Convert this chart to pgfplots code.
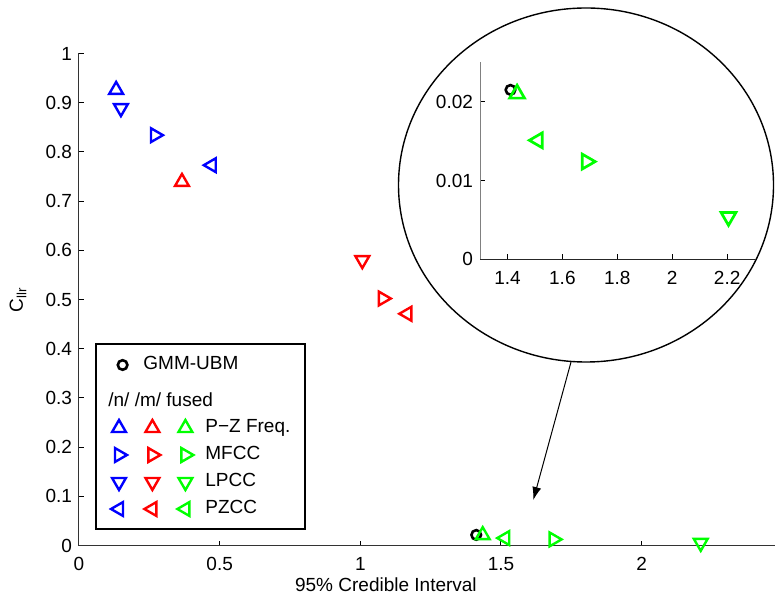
\documentclass[border=0pt]{standalone}
\usepackage{fontspec}
\setmainfont{Liberation Sans}
\usepackage{pgfplots}
\pgfplotsset{compat=1.18}
\usetikzlibrary{arrows.meta}

\definecolor{mblue}{RGB}{0,0,255}
\definecolor{mred}{RGB}{255,0,0}
\definecolor{mgreen}{RGB}{0,255,0}

\pgfplotsset{
  tri/.style={only marks, mark=triangle, mark size=4pt,
    mark options={solid, line width=1.2pt, rotate=#1}},
  itri/.style={only marks, mark=triangle, mark size=4.3pt,
    mark options={solid, line width=1.35pt, rotate=#1}},
  circ/.style={only marks, mark=o, mark size=2.4pt,
    mark options={solid, line width=1.3pt}},
  mk/.style={legend image code/.code={\draw[##1] plot[only marks] coordinates {(0pt,0pt)};}},
  mkshift/.style={legend image code/.code={\draw[##1] plot[only marks] coordinates {(1.8pt,0pt)};}},
  base/.style={
    scale only axis,
    axis lines*=left,
    axis line style={black!80, line width=0.5pt},
    tick style={black, line width=0.5pt},
    major tick length=2.5pt,
    tick align=inside,
    font=\fontsize{9.5}{11}\selectfont,
    /pgf/number format/assume math mode=true,
    xticklabel style={yshift=-2.3pt},
    scaled ticks=false,
    clip=false,
  },
}

\begin{document}
\begin{tikzpicture}
\useasboundingbox (-39.5pt,-24.25pt) rectangle (348pt,272.75pt);

\begin{axis}[base,
  width=348pt, height=246pt,
  xmin=0, xmax=2.474, ymin=0, ymax=1,
  xtick={0,0.5,1,1.5,2},
  ytick={0,0.1,0.2,0.3,0.4,0.5,0.6,0.7,0.8,0.9,1},
  yticklabel style={/pgf/number format/fixed},
  xticklabel style={/pgf/number format/fixed},
  xlabel={95\% Credible Interval},
  ylabel={C\textsubscript{llr}},
  xlabel style={at={(axis description cs:0.441,-0.0945)}, anchor=base},
  ylabel style={at={(axis description cs:-0.0877,0.5)}, anchor=center},
  legend columns=3,
  legend cell align=left,
  legend style={
    at={(0.023,0.4116)}, anchor=north west,
    draw=black, line width=1pt, fill=white,
    font=\fontsize{9.5}{11}\selectfont,
    inner xsep=7.5pt, inner ysep=0pt,
    row sep=3.5pt, column sep=0pt,
    nodes={inner sep=0pt, text height=7.25pt, text depth=2.75pt},
    /tikz/every odd column/.append style={column sep=6pt},
    /tikz/every even column/.append style={column sep=1.5pt},
  },
]
% /n/ (blue)
\addplot+[forget plot, mblue, tri=0]   coordinates {(0.132,0.926)};
\addplot+[forget plot, mblue, tri=-90] coordinates {(0.270,0.834)};
\addplot+[forget plot, mblue, tri=180] coordinates {(0.149,0.889)};
\addplot+[forget plot, mblue, tri=90]  coordinates {(0.472,0.773)};
% /m/ (red)
\addplot+[forget plot, mred, tri=0]   coordinates {(0.366,0.739)};
\addplot+[forget plot, mred, tri=-90] coordinates {(1.080,0.502)};
\addplot+[forget plot, mred, tri=180] coordinates {(1.007,0.580)};
\addplot+[forget plot, mred, tri=90]  coordinates {(1.167,0.471)};
% GMM-UBM
\addplot+[forget plot, black, circ] coordinates {(1.412,0.0215)};
% fused (green)
\addplot+[forget plot, mgreen, tri=0]   coordinates {(1.435,0.0210)};
\addplot+[forget plot, mgreen, tri=-90] coordinates {(1.687,0.0124)};
\addplot+[forget plot, mgreen, tri=180] coordinates {(2.210,0.0054)};
\addplot+[forget plot, mgreen, tri=90]  coordinates {(1.515,0.0151)};

% legend
\addlegendimage{mkshift, black, circ}
\addlegendentry[text height=12.75pt, text depth=8.25pt]{\makebox[0pt][l]{\hspace{1.5pt}GMM-UBM}}
\addlegendimage{empty legend}
\addlegendentry{\mbox{}}
\addlegendimage{empty legend}
\addlegendentry{\mbox{}}

\addlegendimage{empty legend}
\addlegendentry[text height=6.75pt, text depth=2.25pt]{\makebox[0pt][l]{\hspace{-16pt}/n/ /m/ fused}}
\addlegendimage{empty legend}
\addlegendentry[text height=6.75pt, text depth=2.25pt]{\mbox{}}
\addlegendimage{empty legend}
\addlegendentry[text height=6.75pt, text depth=2.25pt]{\mbox{}}

\addlegendimage{mk, mblue, tri=0}\addlegendentry{\mbox{}}
\addlegendimage{mk, mred, tri=0}\addlegendentry{\mbox{}}
\addlegendimage{mk, mgreen, tri=0}\addlegendentry{P−Z Freq.}

\addlegendimage{mk, mblue, tri=-90}\addlegendentry{\mbox{}}
\addlegendimage{mk, mred, tri=-90}\addlegendentry{\mbox{}}
\addlegendimage{mk, mgreen, tri=-90}\addlegendentry{MFCC}

\addlegendimage{mk, mblue, tri=180}\addlegendentry{\mbox{}}
\addlegendimage{mk, mred, tri=180}\addlegendentry{\mbox{}}
\addlegendimage{mk, mgreen, tri=180}\addlegendentry{LPCC}

\addlegendimage{mk, mblue, tri=90}\addlegendentry{\mbox{}}
\addlegendimage{mk, mred, tri=90}\addlegendentry{\mbox{}}
\addlegendimage{mk, mgreen, tri=90}\addlegendentry{PZCC}

\addlegendimage{empty legend}
\addlegendentry[text height=0.75pt, text depth=0.75pt]{\mbox{}}
\end{axis}

% magnifier
\draw[black, line width=0.7pt] (253.5pt,180.25pt) ellipse [x radius=93.75pt, y radius=88.5pt];
\draw[black, line width=0.5pt, -{Latex[length=6.5pt,width=4.5pt]}] (246pt,91.75pt) -- (227.15pt,22.75pt);

\begin{axis}[base,
  at={(200.5pt,143.1pt)}, anchor=south west,
  width=137.3pt, height=98.5pt,
  xmin=1.3, xmax=2.3, ymin=0, ymax=0.025,
  xtick={1.4,1.6,1.8,2,2.2},
  ytick={0,0.01,0.02},
  x axis line style={black!85},
  y axis line style={black!50},
  yticklabel style={/pgf/number format/fixed, /pgf/number format/precision=2},
  xticklabel style={/pgf/number format/fixed},
]
\addplot+[black, circ] coordinates {(1.411,0.0215)};
\addplot+[mgreen, itri=0]   coordinates {(1.435,0.0210)};
\addplot+[mgreen, itri=-90] coordinates {(1.688,0.0124)};
\addplot+[mgreen, itri=180] coordinates {(2.205,0.0054)};
\addplot+[mgreen, itri=90]  coordinates {(1.511,0.0151)};
\end{axis}
\end{tikzpicture}
\end{document}
